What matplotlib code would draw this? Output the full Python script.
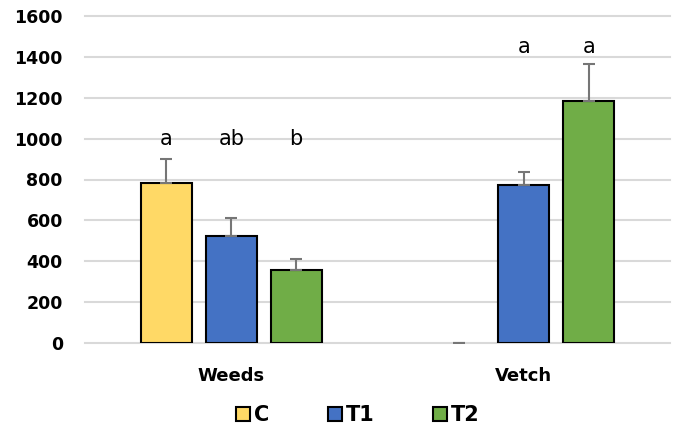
import numpy as np
import matplotlib
matplotlib.use("Agg")
import matplotlib.pyplot as plt

### DATA ###
categories = ["Weeds", "Vetch"]
series = ["C", "T1", "T2"]
values_c = [785, 0]
values_t1 = [523, 774]
values_t2 = [356, 1184]
err_c = [117, 0]
err_t1 = [88, 61]
err_t2 = [53, 181]
letters_c = ["a", ""]
letters_t1 = ["ab", "a"]
letters_t2 = ["b", "a"]
letter_y = [1000, 1450]
yticks = [0, 200, 400, 600, 800, 1000, 1200, 1400, 1600]

COLORS = ["#FFD966", "#4472C4", "#70AD47"]

plt.rcParams['font.family'] = ['DejaVu Sans']

fig = plt.figure(figsize=(6.74, 4.32), dpi=100)
ax = fig.add_axes([85 / 674, (432 - 343) / 432, 585 / 674, 327 / 432])

x = np.arange(len(categories))
step = 0.222
width = 0.174
all_vals = [values_c, values_t1, values_t2]
all_errs = [err_c, err_t1, err_t2]
all_letters = [letters_c, letters_t1, letters_t2]

for i, name in enumerate(series):
    pos = x + (i - 1) * step
    vals = all_vals[i]
    # zero bars get no outline (Excel draws nothing there)
    for p, v in zip(pos, vals):
        if v > 0:
            ax.bar(p, v, width, color=COLORS[i], edgecolor="black", linewidth=1.5, zorder=3)
    ax.errorbar(pos, vals, yerr=[[0] * len(vals), all_errs[i]], fmt="none",
                ecolor="#767676", elinewidth=1.5, capsize=4.5, capthick=1.5, zorder=4)
    for p, lab, ly in zip(pos, all_letters[i], letter_y):
        if lab:
            ax.text(p, ly, lab, ha="center", va="center", fontsize=15)

# legend handles
for i, name in enumerate(series):
    ax.bar(0, 0, 0, color=COLORS[i], edgecolor="black", linewidth=1.5, label=name)

ax.set_xlim(-0.5, 1.5)
ax.set_ylim(0, 1600)
ax.set_yticks(yticks)
ax.set_yticklabels([str(t) for t in yticks], fontweight="bold", fontsize=12.5)
ax.set_xticks(x)
ax.set_xticklabels(categories, fontweight="bold", fontsize=13)
ax.tick_params(axis="both", length=0)
ax.tick_params(axis="y", pad=16)
ax.tick_params(axis="x", pad=17)
ax.grid(axis="y", color="#d9d9d9", linewidth=1.5, zorder=0)
for gl in ax.get_ygridlines():
    gl.set_clip_on(False)
ax.set_axisbelow(True)
for s in ax.spines.values():
    s.set_visible(False)

fig.legend(*ax.get_legend_handles_labels(), loc="center", bbox_to_anchor=(0.531, 17 / 432),
           ncol=3, frameon=False, handlelength=0.68, handleheight=0.68,
           columnspacing=2.8, handletextpad=0.2, prop={"weight": "bold", "size": 15})

fig.savefig("out.png", dpi=100)
